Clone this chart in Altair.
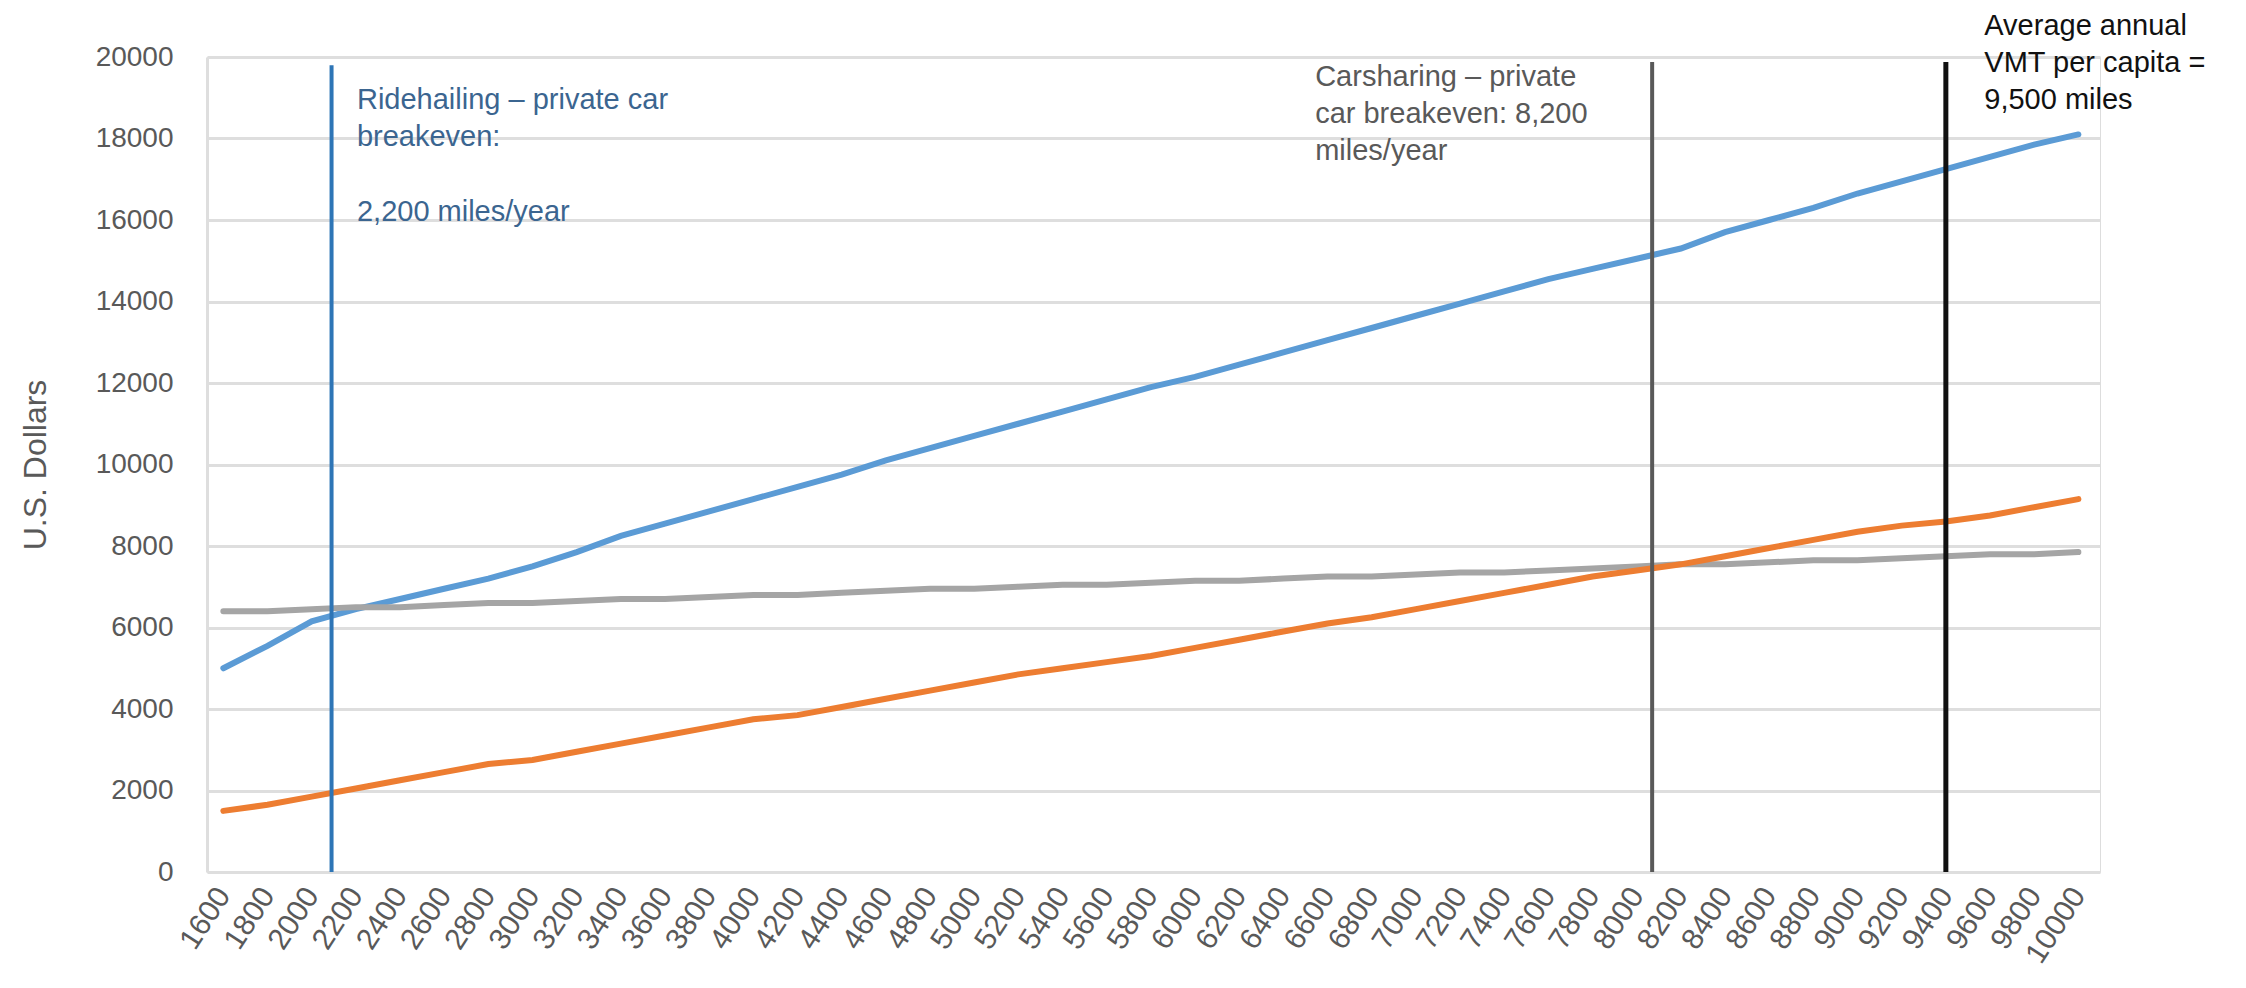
import altair as alt
import pandas as pd

# ---- data ----
miles = list(range(1600, 10001, 200))

ridehailing = [5000, 5550, 6150, 6450, 6700, 6950, 7200, 7500, 7850, 8250,
               8550, 8850, 9150, 9450, 9750, 10100, 10400, 10700, 11000, 11300,
               11600, 11900, 12150, 12450, 12750, 13050, 13350, 13650, 13950, 14250,
               14550, 14800, 15050, 15300, 15700, 16000, 16300, 16650, 16950, 17250,
               17550, 17850, 18100]

private_car = [6400, 6400, 6450, 6500, 6500, 6550, 6600, 6600, 6650, 6700,
               6700, 6750, 6800, 6800, 6850, 6900, 6950, 6950, 7000, 7050,
               7050, 7100, 7150, 7150, 7200, 7250, 7250, 7300, 7350, 7350,
               7400, 7450, 7500, 7550, 7550, 7600, 7650, 7650, 7700, 7750,
               7800, 7800, 7850]

carsharing = [1500, 1650, 1850, 2050, 2250, 2450, 2650, 2750, 2950, 3150,
              3350, 3550, 3750, 3850, 4050, 4250, 4450, 4650, 4850, 5000,
              5150, 5300, 5500, 5700, 5900, 6100, 6250, 6450, 6650, 6850,
              7050, 7250, 7400, 7550, 7750, 7950, 8150, 8350, 8500, 8600,
              8750, 8950, 9150]

series_names = ["Ridehailing", "Private car", "Carsharing"]
series_colors = ["#5B9BD5", "#A5A5A5", "#ED7D31"]

# vertical marker lines (positions as drawn in the reference)
marker_x = [2090, 8070, 9400]
marker_top = [19800, 19880, 19880]
marker_colors = ["#2E75B6", "#595959", "#111111"]
marker_widths = [4, 4, 5]

# annotations
notes = [
    "Ridehailing \u2013 private car\nbreakeven:",
    "2,200 miles/year",
    "Carsharing \u2013 private\ncar breakeven: 8,200\nmiles/year",
    "Average annual\nVMT per capita =\n9,500 miles",
]
note_x = [2205, 2205, 6544, 9574]
note_y = [19300, 16550, 19850, 21100]
note_colors = ["#3B6590", "#3B6590", "#595959", "#111111"]

# ---- build tables ----
rows = []
for name, vals in zip(series_names, [ridehailing, private_car, carsharing]):
    for m, v in zip(miles, vals):
        rows.append({"miles": m, "cost": v, "series": name})
df = pd.DataFrame(rows)

rules_df = pd.DataFrame({"x": marker_x, "y": [0, 0, 0], "y2": marker_top,
                         "color": marker_colors, "w": marker_widths})

FONT = "Liberation Sans"
x_dom = [1526, 10098]

x_enc = alt.X("miles:Q",
              scale=alt.Scale(domain=x_dom, nice=False, zero=False),
              axis=alt.Axis(values=miles, format="d", labelAngle=-57, labelFontSize=30,
                            labelColor="#595959", labelFont=FONT, ticks=False,
                            domain=False, grid=False, title=None, labelPadding=18,
                            labelOverlap=False, labelFlush=False),
              title=None)
y_enc = alt.Y("cost:Q",
              scale=alt.Scale(domain=[0, 20000], nice=False),
              axis=alt.Axis(values=list(range(0, 20001, 2000)), format="d",
                            labelFontSize=28,
                            labelColor="#595959", labelFont=FONT, ticks=False,
                            grid=True, gridColor="#DEDEDE", gridWidth=3,
                            domain=True, domainColor="#DEDEDE", domainWidth=3,
                            labelPadding=34, title="U.S. Dollars", titleFontSize=32,
                            titleFont=FONT, titleColor="#595959",
                            titleFontWeight="normal", titlePadding=43))

lines = alt.Chart(df).mark_line(strokeWidth=6, strokeCap="round").encode(
    x=x_enc, y=y_enc,
    color=alt.Color("series:N", scale=alt.Scale(domain=series_names, range=series_colors),
                    legend=None),
    detail="series:N",
)

rules = alt.Chart(rules_df).mark_rule().encode(
    x=alt.X("x:Q", scale=alt.Scale(domain=x_dom, nice=False, zero=False)),
    y=alt.Y("y:Q"),
    y2="y2:Q",
    color=alt.Color("color:N", scale=None),
    strokeWidth=alt.StrokeWidth("w:Q", scale=None),
)

texts = []
for t, xv, yv, c in zip(notes, note_x, note_y, note_colors):
    tdf = pd.DataFrame({"x": [xv], "y": [yv], "t": [t]})
    texts.append(
        alt.Chart(tdf).mark_text(align="left", baseline="top", fontSize=29,
                                 font=FONT, lineBreak="\n", lineHeight=37, color=c)
        .encode(x=alt.X("x:Q", scale=alt.Scale(domain=x_dom, nice=False, zero=False)),
                y=alt.Y("y:Q"), text="t:N")
    )

chart = alt.layer(lines, rules, *texts).properties(
    width=1893, height=815,
    autosize=alt.AutoSizeParams(type="none"),
    padding={"left": 199, "top": 49, "right": 138, "bottom": 100},
).configure_view(stroke=None).configure(background="white")

chart.save("out.html", embed_options={"renderer": "svg", "actions": False})
